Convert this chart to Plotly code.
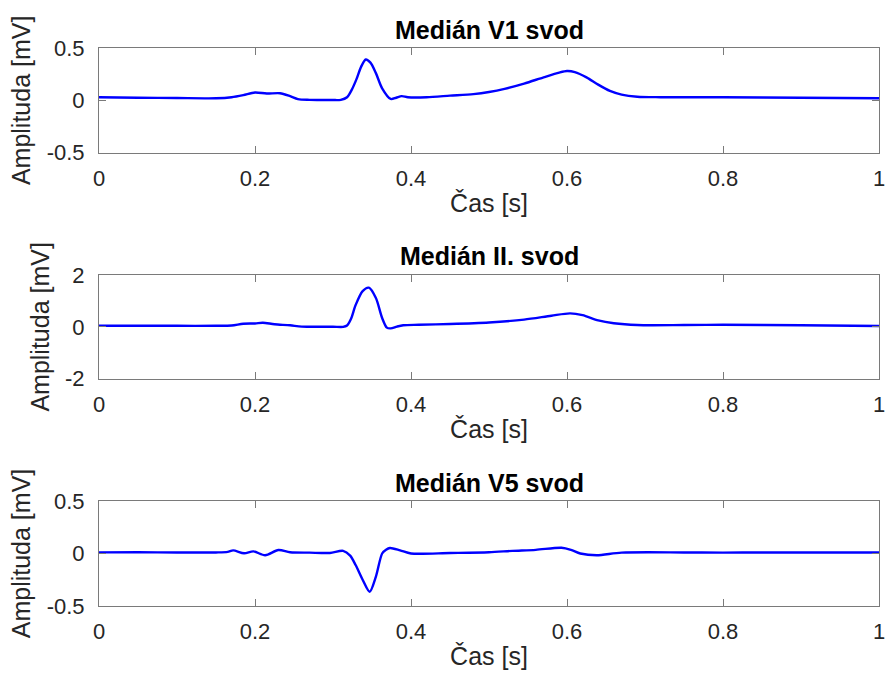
import plotly.graph_objects as go

# ---- data ----
t_v1 = [0, 0.05, 0.1, 0.15, 0.17, 0.185, 0.2, 0.215, 0.232, 0.245, 0.255, 0.27, 0.3, 0.31,
        0.318, 0.324, 0.33, 0.336, 0.342, 0.348, 0.355, 0.363, 0.374, 0.381, 0.388, 0.396,
        0.42, 0.45, 0.48, 0.5, 0.52, 0.545, 0.57, 0.59, 0.6, 0.61, 0.625, 0.64, 0.655, 0.67,
        0.69, 0.72, 0.8, 0.9, 1.0]
v_v1 = [0.03, 0.025, 0.022, 0.02, 0.03, 0.05, 0.075, 0.065, 0.068, 0.04, 0.012, 0.005, 0.003, 0.005,
        0.03, 0.1, 0.2, 0.32, 0.39, 0.36, 0.26, 0.115, 0.013, 0.025, 0.04, 0.03,
        0.03, 0.045, 0.06, 0.08, 0.11, 0.16, 0.22, 0.265, 0.28, 0.27, 0.22, 0.15, 0.09, 0.055,
        0.035, 0.03, 0.03, 0.025, 0.02]

t_ii = [0, 0.05, 0.1, 0.15, 0.17, 0.185, 0.2, 0.21, 0.225, 0.245, 0.26, 0.3, 0.313, 0.318,
        0.323, 0.329, 0.338, 0.346, 0.355, 0.363, 0.369, 0.374, 0.382, 0.39, 0.41, 0.45, 0.5,
        0.545, 0.58, 0.604, 0.62, 0.64, 0.66, 0.69, 0.75, 0.8, 0.9, 1.0]
v_ii = [0.045, 0.045, 0.04, 0.04, 0.05, 0.12, 0.13, 0.16, 0.1, 0.06, 0.01, 0.005, 0.0, 0.05,
        0.3, 0.84, 1.38, 1.51, 1.11, 0.34, -0.03, -0.06, 0.01, 0.06, 0.08, 0.11, 0.17,
        0.28, 0.43, 0.52, 0.45, 0.25, 0.14, 0.07, 0.07, 0.08, 0.06, 0.03]

t_v5 = [0, 0.05, 0.1, 0.15, 0.165, 0.172, 0.186, 0.198, 0.213, 0.23, 0.245, 0.27, 0.296, 0.313,
        0.322, 0.329, 0.338, 0.347, 0.355, 0.363, 0.368, 0.373, 0.386, 0.4, 0.45, 0.5, 0.53,
        0.56, 0.593, 0.605, 0.617, 0.638, 0.67, 0.75, 0.8, 0.85, 0.9, 1.0]
v_v5 = [0.011, 0.012, 0.01, 0.01, 0.015, 0.03, 0.002, 0.02, -0.017, 0.033, 0.012, 0.008, 0.005, 0.025,
        -0.02, -0.11, -0.25, -0.364, -0.22, 0.0, 0.035, 0.052, 0.03, 0.0, 0.005, 0.012, 0.025,
        0.035, 0.055, 0.035, 0.0, -0.017, 0.008, 0.01, 0.008, 0.01, 0.01, 0.01]

titles = ["Medián V1 svod", "Medián II. svod", "Medián V5 svod"]
x_label = "Čas [s]"
y_label = "Amplituda [mV]"
x_ticks = [0, 0.2, 0.4, 0.6, 0.8, 1]
x_ticktext = ["0", "0.2", "0.4", "0.6", "0.8", "1"]
y_ticks = [[-0.5, 0, 0.5], [-2, 0, 2], [-0.5, 0, 0.5]]
y_ticktext = [["-0.5", "0", "0.5"], ["-2", "0", "2"], ["-0.5", "0", "0.5"]]
y_ranges = [[-0.5, 0.5], [-2, 2], [-0.5, 0.5]]

series = [(t_v1, v_v1), (t_ii, v_ii), (t_v5, v_v5)]

# ---- layout ----
W, H = 885, 682
ML, MR, MT, MB = 99, 6, 48, 76
plot_h = H - MT - MB
panels_px = [(48, 152.7), (275, 378.7), (501, 606)]  # top, bottom in pixels
title_px = [30, 256, 483]

def py(ypx):
    return (H - MB - ypx) / plot_h

FONT = "Arial, Liberation Sans, sans-serif"
AXC = "#7a7a7a"
TXC = "#262626"

fig = go.Figure()
layout = dict(
    width=W, height=H,
    margin=dict(l=ML, r=MR, t=MT, b=MB, pad=0, autoexpand=False),
    paper_bgcolor="white", plot_bgcolor="white",
    showlegend=False,
    font=dict(family=FONT, color=TXC, size=22),
    annotations=[],
)

for i, ((tt, vv), ttl) in enumerate(zip(series, titles)):
    n = "" if i == 0 else str(i + 1)
    fig.add_trace(go.Scatter(x=tt, y=vv, mode="lines",
                             line=dict(color="#0000FF", width=2.4, shape="spline", smoothing=0.8),
                             xaxis="x" + n, yaxis="y" + n, hoverinfo="skip"))
    top, bot = panels_px[i]
    layout["xaxis" + n] = dict(
        domain=[0, 1], anchor="y" + n, range=[0, 1], automargin=False,
        tickvals=x_ticks, ticktext=x_ticktext,
        ticks="inside", ticklen=7, tickwidth=1, tickcolor=AXC,
        showline=True, linecolor=AXC, linewidth=1, mirror="ticks",
        showgrid=False, zeroline=False,
        tickfont=dict(size=22, color=TXC, family=FONT),
        ticklabelstandoff=6, ticklabeloverflow="allow",
        title=dict(text=x_label, font=dict(size=25, color=TXC, family=FONT), standoff=4),
    )
    layout["yaxis" + n] = dict(
        domain=[py(bot), py(top)], anchor="x" + n, range=y_ranges[i], automargin=False,
        tickvals=y_ticks[i], ticktext=y_ticktext[i],
        ticks="inside", ticklen=7, tickwidth=1, tickcolor=AXC,
        showline=True, linecolor=AXC, linewidth=1, mirror="ticks",
        showgrid=False, zeroline=False,
        tickfont=dict(size=22, color=TXC, family=FONT),
        ticklabelstandoff=9, ticklabeloverflow="allow",
        title=dict(text=y_label, font=dict(size=25, color=TXC, family=FONT), standoff=8),
    )
    layout["annotations"].append(dict(
        text="<b>" + ttl + "</b>", x=0.5, y=py(title_px[i]), xref="paper", yref="paper",
        xanchor="center", yanchor="middle", showarrow=False,
        font=dict(size=25, color="black", family=FONT),
    ))

fig.update_layout(**layout)
fig.write_html("out.html")
